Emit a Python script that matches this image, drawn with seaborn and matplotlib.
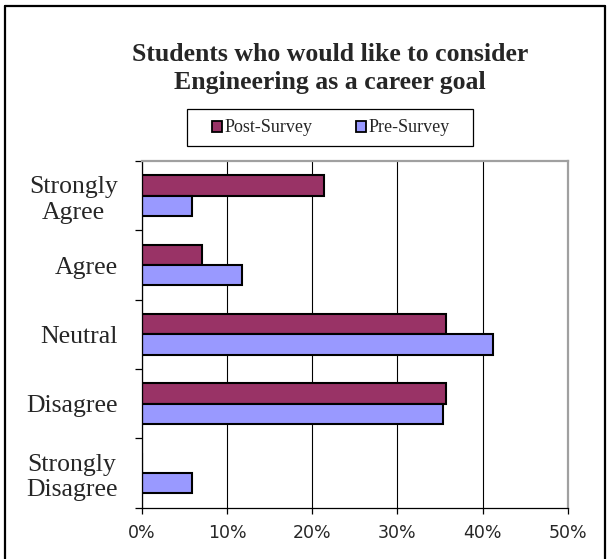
import matplotlib
matplotlib.use("Agg")
import matplotlib.pyplot as plt
from matplotlib.lines import Line2D
from matplotlib.patches import Patch, Rectangle
from matplotlib.ticker import FixedLocator, FuncFormatter
import pandas as pd
import seaborn as sns

# Survey responses (percent of students)
categories = ["Strongly\nAgree", "Agree", "Neutral", "Disagree", "Strongly\nDisagree"]
post_survey = [21.4, 7.1, 35.7, 35.7, 0.0]
pre_survey = [5.9, 11.8, 41.2, 35.3, 5.9]
series_names = ["Post-Survey", "Pre-Survey"]
series_colors = ["#993366", "#9999FF"]
x_ticks = [0, 10, 20, 30, 40, 50]

sns.set_style("white")
plt.rcParams["font.family"] = ["Liberation Serif", "DejaVu Serif"]

df = pd.DataFrame({
    "Response": categories * 2,
    "Survey": [series_names[0]] * len(categories) + [series_names[1]] * len(categories),
    "Percent": post_survey + pre_survey,
})

W, H = 613, 559
fig = plt.figure(figsize=(W / 100, H / 100), dpi=100)
fig.patch.set_facecolor("white")

left, right, top, bottom = 141.7, 568.0, 161.0, 507.7
ax = fig.add_axes([left / W, 1 - bottom / H, (right - left) / W, (bottom - top) / H])

sns.barplot(
    data=df, y="Response", x="Percent", hue="Survey",
    order=categories, hue_order=series_names, palette=series_colors,
    saturation=1, orient="h", width=0.59, edgecolor="black", linewidth=1.5,
    legend=False, ax=ax,
)

ax.set_xlim(0, 50)
ax.set_ylim(len(categories) - 0.5, -0.5)
ax.set_xlabel("")
ax.set_ylabel("")

# Vertical gridlines behind the bars
ax.set_axisbelow(True)
ax.xaxis.set_major_locator(FixedLocator(x_ticks))
ax.xaxis.set_major_formatter(FuncFormatter(lambda v, _: f"{v:.0f}%"))
ax.grid(axis="x", color="black", linewidth=0.8)
ax.grid(axis="y", visible=False)

# Spines: black value/category axes, grey plot-area frame
for side in ("left", "bottom"):
    ax.spines[side].set_color("black")
    ax.spines[side].set_linewidth(0.9)
for side in ("top", "right"):
    ax.spines[side].set_color("#a0a0a0")
    ax.spines[side].set_linewidth(1.6)

# Category tick marks sit between the categories
ax.yaxis.set_minor_locator(FixedLocator([i - 0.5 for i in range(len(categories) + 1)]))
ax.tick_params(axis="y", which="minor", length=5, width=0.9, color="black", direction="out", left=True)
ax.tick_params(axis="y", which="major", length=5, pad=12.3, labelsize=18.5, left=True, color="none")
for lbl in ax.get_yticklabels():
    lbl.set_multialignment("center")
    lbl.set_fontfamily(["Liberation Serif", "DejaVu Serif"])

ax.tick_params(axis="x", which="major", length=4, width=0.9, color="black", direction="out",
               bottom=True, pad=8, labelsize=12.5)
for lbl in ax.get_xticklabels():
    lbl.set_fontfamily(["DejaVu Sans"])

# Title
fig.text(330 / W, 1 - 89 / H, "Students who would like to consider\nEngineering as a career goal",
         ha="center", va="baseline", fontsize=18.5, fontweight="bold",
         family=["Liberation Serif", "DejaVu Serif"], linespacing=1.3)

# Legend with a plain rectangular box
handles = [Patch(facecolor=c, edgecolor="black", linewidth=1.3) for c in series_colors]
fig.legend(handles, series_names, loc="center", bbox_to_anchor=(331 / W, 1 - 128 / H),
           ncol=2, frameon=False, prop={"family": ["Liberation Serif"], "size": 13},
           handlelength=0.55, handleheight=0.55, handletextpad=0.15, columnspacing=2.4,
           borderpad=0)
fig.add_artist(Rectangle((187 / W, 1 - 146 / H), (473 - 187) / W, (146 - 109) / H,
                         transform=fig.transFigure, facecolor="none", edgecolor="black",
                         linewidth=0.9))

# Chart-area border
for xs, ys in [((5 / W, 5 / W), (0, 1 - 5.5 / H)),
               ((5 / W, 604.5 / W), (1 - 5.5 / H, 1 - 5.5 / H)),
               ((604.5 / W, 604.5 / W), (1 - 5.5 / H, 0))]:
    fig.add_artist(Line2D(xs, ys, transform=fig.transFigure, color="black", linewidth=1.6))

fig.savefig("out.png", dpi=100, facecolor="white")
